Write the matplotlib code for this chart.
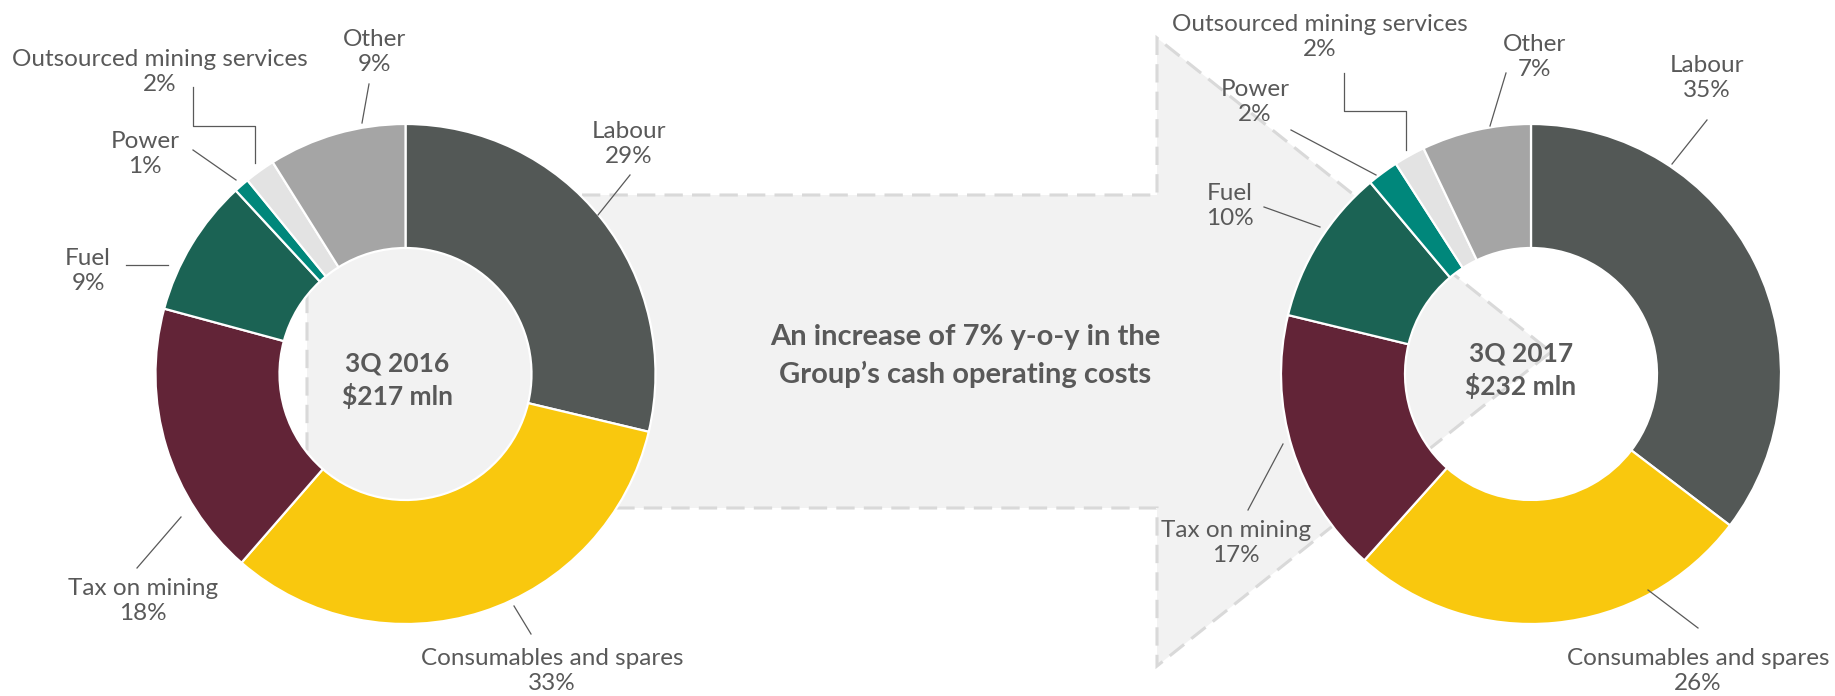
import matplotlib.pyplot as plt
from matplotlib.patches import Polygon

W, H = 1835, 696

categories = ["Labour", "Consumables and spares", "Tax on mining", "Fuel",
              "Power", "Outsourced mining services", "Other"]
share_2016 = [29, 33, 18, 9, 1, 2, 9]
share_2017 = [35, 26, 17, 10, 2, 2, 7]
titles = ["3Q 2016\n$217 mln", "3Q 2017\n$232 mln"]
headline = "An increase of 7% y-o-y in the\nGroup\u2019s cash operating costs"

colors = ["#535856", "#F9C80E", "#622437", "#1B6354", "#00877B", "#E3E3E3", "#A5A5A5"]
TEXT = "#595959"
FONT = "Lato"

# layout in image pixels (x right, y down)
centers = [(405.5, 374), (1531, 374)]
R_OUT, R_IN = 250, 126

label_xy = [
    [(629, 144), (552, 671), (143, 601), (88, 271), (145, 154), (160, 72), (374, 52)],
    [(1707, 78), (1698, 671), (1236, 543), (1230, 206), (1255, 102), (1320, 37), (1534, 57)],
]
leaders = [
    [[(630, 175), (598, 215)], [(514, 606), (531, 634)], [(181, 517), (137, 568)],
     [(126, 265), (168, 265)], [(193, 150), (236, 180)],
     [(193, 87), (193, 126), (255, 126), (255, 163)], [(369, 84), (362, 123)]],
    [[(1707, 120), (1672, 164)], [(1648, 590), (1698, 628)], [(1283, 444), (1248, 510)],
     [(1264, 207), (1320, 227)], [(1291, 130), (1376, 175)],
     [(1344, 73), (1344, 111), (1406, 111), (1406, 150)], [(1506, 73), (1490, 126)]],
]
center_text_xy = [(397, 380), (1521, 370)]
arrow_pts = [(307, 195), (1157, 195), (1157, 38), (1551, 352),
             (1157, 666), (1157, 508), (307, 508)]


def up(p):
    return (p[0], H - p[1])


fig = plt.figure(figsize=(W / 100, H / 100), dpi=100)
ax = fig.add_axes([0, 0, 1, 1])

ax.add_patch(Polygon([up(p) for p in arrow_pts], closed=True, facecolor="#F2F2F2",
                     edgecolor="#D9D9D9", linewidth=2.2, linestyle=(0, (6, 3)), zorder=1))
ax.text(965, H - 356, headline, ha="center", va="center", fontsize=21,
        fontweight="bold", color=TEXT, family=FONT, linespacing=1.45, zorder=5)

for values, c, lxy, lead in zip([share_2016, share_2017], centers, label_xy, leaders):
    ax.pie(values, colors=colors, startangle=90, counterclock=False,
           center=up(c), radius=R_OUT,
           wedgeprops=dict(width=R_OUT - R_IN, edgecolor="white", linewidth=1.6),
           frame=True)
    for name, v, (x, y), seg in zip(categories, values, lxy, lead):
        ax.text(x, H - y, f"{name}\n{v}%", ha="center", va="center", fontsize=17.5,
                color=TEXT, family=FONT, linespacing=1.25, zorder=6)
        xs, ys = zip(*[up(p) for p in seg])
        ax.plot(xs, ys, color="#595959", linewidth=0.9, zorder=6)

for (x, y), title in zip(center_text_xy, titles):
    ax.text(x, H - y, title, ha="center", va="center", fontsize=19,
            fontweight="bold", color=TEXT, family=FONT, linespacing=1.35, zorder=6)

ax.set_xlim(0, W)
ax.set_ylim(0, H)
ax.set_aspect("auto")
ax.axis("off")

fig.savefig("out.png", dpi=100)
